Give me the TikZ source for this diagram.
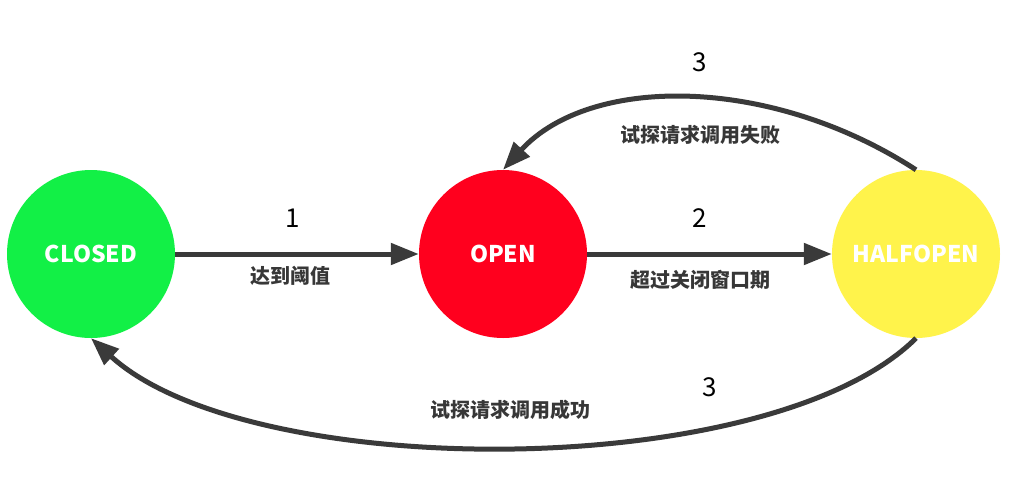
\documentclass[tikz,border=0pt]{standalone}
\usepackage{fontspec}
\usetikzlibrary{arrows.meta}
\newfontfamily\cjk{Noto Sans CJK SC}
\definecolor{stgreen}{RGB}{18,240,70}
\definecolor{stred}{RGB}{255,0,30}
\definecolor{styellow}{RGB}{255,243,75}
\definecolor{arrowgray}{RGB}{58,58,58}
\definecolor{labelgray}{RGB}{55,55,55}
\tikzset{
  state/.style={circle, minimum size=168pt, inner sep=0pt, text=white,
    font=\cjk\bfseries\fontsize{23pt}{26pt}\selectfont},
  conn/.style={draw=arrowgray, line width=5pt,
    -{Triangle[length=28pt,width=21pt]}},
  numlabel/.style={font=\cjk\fontsize{26pt}{30pt}\selectfont, text=black},
  cnlabel/.style={font=\cjk\bfseries\fontsize{20pt}{24pt}\selectfont, text=labelgray}
}
\begin{document}
\begin{tikzpicture}[x=1pt,y=-1pt]
\useasboundingbox (0,0) rectangle (1028,485);
\fill[white] (0,0) rectangle (1028,485);
\node[state, fill=stgreen] (closed) at (91,254) {CLOSED};
\node[state, fill=stred] (open) at (503,254) {OPEN};
\node[state, fill=styellow] (half) at (916,254) {HALFOPEN};

\draw[conn] (closed.east) -- (open.west);
\draw[conn] (open.east) -- (half.west);
\draw[conn] (half.north) .. controls (770,75) and (590,75) .. (open.north);
\draw[conn] (half.south) .. controls (770,483) and (250,483) .. (closed.south);

\node[numlabel] (n1) at (293,218) {1};
\node[cnlabel] (l1) at (290,276) {达到阈值};
\node[numlabel] (n2) at (700,218) {2};
\node[cnlabel] (l2) at (700,280) {超过关闭窗口期};
\node[numlabel] (n3a) at (700,62) {3};
\node[cnlabel] (l3a) at (700,135) {试探请求调用失败};
\node[numlabel] (n3b) at (710,387) {3};
\node[cnlabel] (l3b) at (510,410) {试探请求调用成功};
\end{tikzpicture}
\end{document}
